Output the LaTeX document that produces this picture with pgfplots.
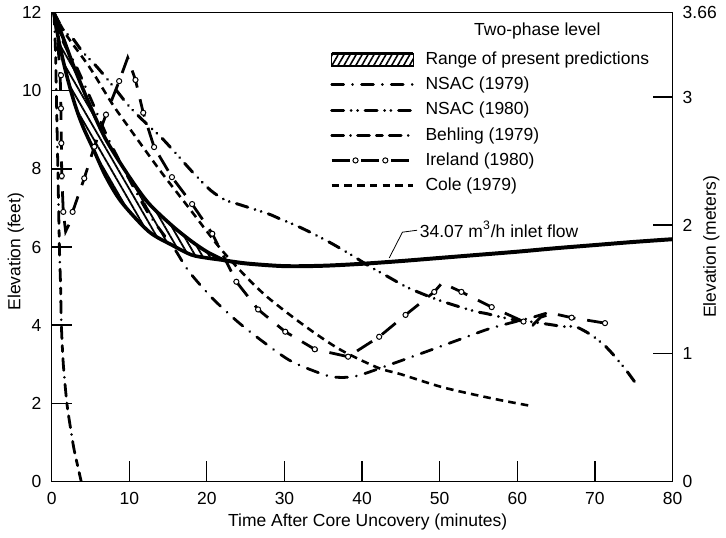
\documentclass[border=0pt]{standalone}
\usepackage{fontspec}
\setmainfont{Liberation Sans}
\usepackage{pgfplots}
\pgfplotsset{compat=1.18}
\usepgfplotslibrary{fillbetween}
\usetikzlibrary{patterns.meta}

\pgfplotsset{
 legline/.style={legend image code/.code={\draw[##1] (0pt,0pt) -- (41pt,0pt);}},
 legrange/.style={legend image code/.code={\fill[pattern={Lines[angle=60,distance=2.6pt,line width=0.8pt]}] (0pt,-3.2pt) rectangle (41pt,3.2pt); \draw[line width=1.4pt] (0pt,3.2pt)--(41pt,3.2pt) (0pt,-3.2pt)--(41pt,-3.2pt);}},
 legireland/.style={legend image code/.code={\draw[##1] (0pt,0pt) -- (41pt,0pt); \draw[solid,fill=white,line width=0.5pt] (12pt,0pt) circle (1.3pt) (27pt,0pt) circle (1.3pt);}},
 nsacA/.style={black, line width=1.4pt, line cap=round, dash pattern=on 6pt off 4.5pt on 0.01pt off 4.5pt},
 nsacB/.style={black, line width=1.5pt, line cap=round, dash pattern=on 6pt off 3.8pt on 0.01pt off 3.2pt on 0.01pt off 3.8pt},
 behling/.style={black, line width=1.4pt, line cap=round, dash pattern=on 6pt off 3.5pt on 0.01pt off 3.5pt on 6pt off 3.5pt on 3pt off 3.5pt},
 ireland/.style={black, line width=1.4pt, dash pattern=on 9pt off 6pt},
 cole/.style={black, line width=1.3pt, dash pattern=on 3.8pt off 2.6pt},
}

\begin{document}
\begin{tikzpicture}[font=\fontsize{8.8}{10.5}\selectfont]
\begin{axis}[
 at={(0,0)}, anchor=south west,
 width=312.5pt, height=235.75pt, scale only axis,
 xmin=0, xmax=80, ymin=0, ymax=12,
 xtick={0,10,...,80}, ytick={0,2,...,12},
 yticklabels={0,2,4,6,8,10,\raisebox{-2pt}{12}},
 tick align=inside, xtick pos=bottom, ytick pos=left,
 major tick length=10pt,
 axis line style={line width=0.6pt},
 tick style={line width=0.6pt, black},
 /pgf/number format/assume math mode=true,
 xticklabel style={yshift=-2pt},
 yticklabel style={xshift=-1.6pt},
 xlabel={Time After Core Uncovery (minutes)},
 ylabel={Elevation (feet)},
 xlabel style={at={(axis description cs:0.509,0)}, yshift=-20.75pt, anchor=center},
 ylabel style={at={(axis description cs:-0.0576,0.49)}, anchor=center},
 legend style={at={(0.448,0.926)}, anchor=north west, draw=none, fill=none, inner sep=0pt, row sep=0.8pt,
   /tikz/every odd column/.append style={column sep=3.5pt}},
 legend cell align=left,
]
% Range of present predictions (band)
\addplot[name path=U, black, line width=1.8pt, smooth, forget plot] coordinates {
(0.3,12)(1.5,11.35)(3,10.55)(5,9.6)(7,8.75)(10,7.8)(12.5,7.12)(15.5,6.55)(18,6.15)(20,5.88)(22.2,5.66)};
\addplot[name path=L, black, line width=1.8pt, smooth, forget plot] coordinates {
(0.3,12)(1,11.2)(2,10.35)(3,9.65)(4,9.1)(5.5,8.45)(7,7.8)(9,7.15)(12.5,6.4)(15.5,6.05)(18,5.8)(20,5.72)(22.2,5.66)};
\addplot[pattern={Lines[angle=-60,distance=3pt,line width=0.9pt]}, draw=none, forget plot] fill between[of=U and L];
% inlet flow line
\addplot[black, line width=2pt, smooth, forget plot] coordinates {
(22.2,5.66)(25,5.58)(30,5.51)(35,5.52)(40,5.57)(45,5.64)(50,5.72)(55,5.8)(60,5.88)(65,5.97)(70,6.05)(75,6.13)(80,6.2)};
% NSAC 1979
\addplot[nsacA, smooth, tension=0.5, forget plot] coordinates {
(0.3,12)(1.5,11.25)(3,10.7)(5.1,9.77)(7,8.9)(8.5,8.3)(10.5,7.55)(12.5,6.85)(14.5,6.3)(16,5.9)(17.7,5.37)(20.7,4.69)(24,4.08)(27.4,3.55)(30.9,3.07)(35.1,2.73)(37,2.66)(39.4,2.7)(43.5,2.98)(48,3.3)(52,3.59)(56.3,3.9)(60,4.1)(62,4.2)(64.5,4.35)};
% NSAC 1980
\addplot[nsacB, smooth, tension=0.5, forget plot] coordinates {
(0.3,12)(1.7,11.5)(2.5,11.4)(4,11.0)(5.9,10.6)(8,10.1)(10,9.6)(12,9.2)(14.2,8.79)(16,8.4)(18.2,7.91)(20.5,7.45)(22.4,7.2)(24,7.1)(27.9,6.85)(29.2,6.74)(31.5,6.55)(33.5,6.36)(36,6.1)(38.5,5.81)(41,5.5)(43.6,5.21)(46,4.95)(50,4.63)(54.4,4.36)(55.9,4.3)(58,4.2)(60,4.12)(62,4.08)(64,4.02)(66.1,3.96)(67.5,3.96)(69.5,3.75)(71.4,3.45)(72.2,3.28)(74,2.85)(75.5,2.44)};
% Behling 1979
\addplot[behling, smooth, tension=0.4, forget plot] coordinates {
(0.3,12)(0.5,11)(0.6,10)(0.8,8)(1.0,6)(1.15,5)(1.25,4)(1.5,3)(1.96,2)(2.4,1.4)(2.9,0.8)(3.8,0)};
% Ireland 1980
\addplot[ireland, forget plot] coordinates {
(0.3,12)(0.8,11.2)(1.1,10.4)(1.2,9.55)(1.25,8.66)(1.3,7.82)(1.5,6.9)(1.8,6.4)(2.3,6.6)(2.7,6.9)(4.2,7.76)(5.5,8.57)(7,9.39)(8.7,10.25)(9.8,10.85)(10.8,10.28)(11.8,9.44)(13.2,8.56)(15.5,7.79)(18.1,7.1)(20.7,6.34)(23.8,5.11)(26.6,4.4)(30.1,3.83)(33.9,3.38)(38.2,3.19)(42.2,3.7)(45.6,4.26)(49.3,4.85)(50.3,5.08)(52.8,4.85)(56.7,4.46)(60.8,4.09)(62,4.0)(63,4.2)(64.5,4.3)(67,4.19)(71.3,4.05)(72.5,4.21)};
\addplot[only marks, mark=*, mark size=1.3pt, mark options={solid, fill=white, draw=black, line width=0.5pt}, forget plot] coordinates {
(1.2,10.4)(1.2,9.55)(1.25,8.66)(1.3,7.82)(1.5,6.9)(2.7,6.9)(4.2,7.76)(5.5,8.57)(7,9.39)(8.7,10.25)(10.8,10.28)(11.8,9.44)(13.2,8.56)(15.5,7.79)(18.1,7.1)(20.7,6.34)(23.8,5.11)(26.6,4.4)(30.1,3.83)(33.9,3.38)(38.2,3.19)(42.2,3.7)(45.6,4.26)(49.3,4.85)(52.8,4.85)(56.7,4.46)(60.8,4.09)(67,4.19)(71.3,4.05)};
% Cole 1979
\addplot[cole, smooth, tension=0.5, forget plot] coordinates {
(0.3,12)(2,11.4)(4.9,10.6)(7.8,9.67)(10,9.05)(14,7.95)(17.7,7.0)(20,6.4)(22,5.9)(25,5.25)(27.9,4.7)(32.6,3.98)(37.1,3.38)(42,2.91)(45,2.74)(50.5,2.4)(57,2.11)(62,1.92)};
% legend
\addlegendimage{legrange}\addlegendentry{Range of present predictions}
\addlegendimage{nsacA, legline}\addlegendentry{NSAC (1979)}
\addlegendimage{nsacB, legline}\addlegendentry{NSAC (1980)}
\addlegendimage{behling, legline}\addlegendentry{Behling (1979)}
\addlegendimage{ireland, legireland}\addlegendentry{Ireland (1980)}
\addlegendimage{cole, legline}\addlegendentry{Cole (1979)}
% annotations
\node[anchor=west, inner sep=0pt] at (rel axis cs:0.68,0.962) {Two-phase level};
\draw[line width=0.4pt] (axis cs:43.5,5.72) -- (axis cs:45.2,6.38) -- (axis cs:47.1,6.43);
\node[anchor=west, inner sep=0pt] at (axis cs:47.4,6.45) {34.07 m\textsuperscript{3}/h inlet flow};
\end{axis}
\begin{axis}[
 at={(0,0)}, anchor=south west,
 width=312.5pt, height=235.75pt, scale only axis,
 xmin=0, xmax=80, ymin=0, ymax=3.6576,
 axis x line=none, axis y line*=right,
 ytick={0,1,2,3,3.6576}, yticklabels={0,1,2,3,\raisebox{-4.5pt}{3.66}},
 tick align=inside, major tick length=10pt,
 axis line style={line width=0.6pt},
 tick style={line width=0.6pt, black},
 /pgf/number format/assume math mode=true,
 yticklabel style={xshift=1.6pt},
 ylabel={Elevation (meters)},
 ylabel style={at={(axis description cs:1.0624,0.5)}, anchor=center},
]
\addplot[draw=none, forget plot] coordinates {(0,0)(80,3.6576)};
\end{axis}
\path (-26pt,-27.25pt) rectangle (337pt,240.75pt);
\end{tikzpicture}
\end{document}
